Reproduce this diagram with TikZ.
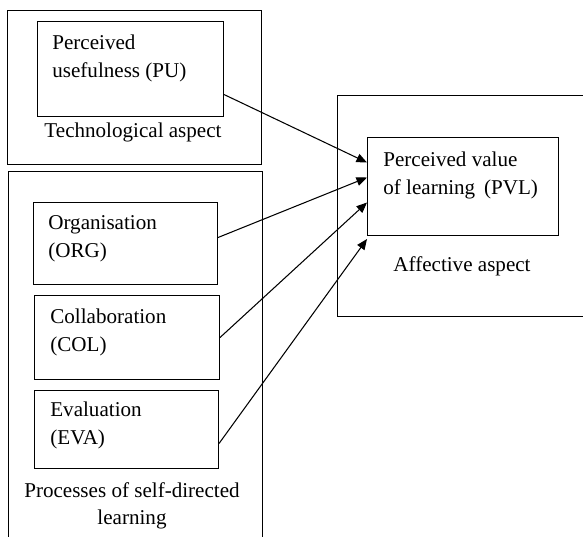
\documentclass[tikz,border=0pt]{standalone}
\usepackage{fontspec}
\setmainfont{Liberation Serif}
\usetikzlibrary{positioning,arrows.meta}

\begin{document}
\begin{tikzpicture}[x=0.02cm,y=-0.02cm,
	box/.style={draw,line width=0.6pt,inner sep=0,anchor=north west},
	txt/.style={align=left,inner sep=0,anchor=base west,font=\fontsize{12}{16}\selectfont},
	lbl/.style={align=center,inner sep=0,anchor=base,font=\fontsize{12}{15.5}\selectfont},
	arr/.style={-{Triangle[length=6pt,width=5pt]},line width=0.6pt}]
		\useasboundingbox (0,0) rectangle (583,537);
		\clip (0,0) rectangle (583,537);

		%outer boxes
		\node[box,minimum width=5.08cm,minimum height=3.08cm] (tech) at (7,10) {};
		\node[box,minimum width=5.08cm,minimum height=7.78cm] (proc) at (8,171) {};
		\node[box,minimum width=5.26cm,minimum height=4.42cm] (aff) at (337,95) {};

		%inner boxes
		\node[box,minimum width=3.72cm,minimum height=1.9cm] (pu) at (37,21) {};
		\node[box,minimum width=3.68cm,minimum height=1.64cm] (org) at (33,202) {};
		\node[box,minimum width=3.7cm,minimum height=1.68cm] (col) at (34,295) {};
		\node[box,minimum width=3.68cm,minimum height=1.56cm] (eva) at (34,390) {};
		\node[box,minimum width=3.82cm,minimum height=1.96cm] (pvl) at (367,137) {};

		%box texts (placed at last baseline)
		\node[txt] (pu-t) at (52,78) {Perceived\\usefulness (PU)};
		\node[txt] (org-t) at (48,258) {Organisation\\(ORG)};
		\node[txt] (col-t) at (50,352) {Collaboration\\(COL)};
		\node[txt] (eva-t) at (50,445) {Evaluation\\(EVA)};
		\node[txt] (pvl-t) at (383,195) {Perceived value\\of learning\, (PVL)};

		%aspect labels
		\node[lbl] (tech-l) at (133,138) {Technological aspect};
		\node[lbl] (proc-l) at (132,525) {Processes of self-directed\\learning};
		\node[lbl] (aff-l) at (462,272) {Affective aspect};

		%edges
		\draw[arr] ([yshift=-25.5*0.02cm]pu.east) -- ([yshift=24*0.02cm]pvl.west);
		\draw[arr] ([yshift=6*0.02cm]org.east) -- ([yshift=9*0.02cm]pvl.west);
		\draw[arr] (col.east) -- ([yshift=-16*0.02cm]pvl.west);
		\draw[arr] ([yshift=-14*0.02cm]eva.east) -- ([yshift=-3*0.02cm]pvl.south west);
	\end{tikzpicture}
\end{document}
